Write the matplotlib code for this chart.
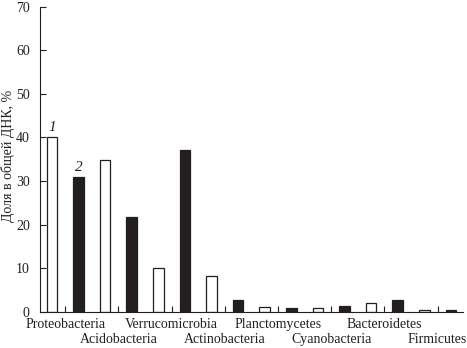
import matplotlib
matplotlib.use("Agg")
import matplotlib.pyplot as plt
import numpy as np

categories = ["Proteobacteria", "Acidobacteria", "Verrucomicrobia", "Actinobacteria",
              "Planctomycetes", "Cyanobacteria", "Bacteroidetes", "Firmicutes"]
series1 = [40.0, 34.7, 10.0, 8.3, 1.0, 0.8, 2.0, 0.5]
series2 = [30.8, 21.8, 37.2, 2.6, 0.8, 1.2, 2.6, 0.4]
yticks = [0, 10, 20, 30, 40, 50, 60, 70]
ylabel = "Доля в общей ДНК, %"

plt.rcParams["font.family"] = ["Liberation Serif", "DejaVu Serif"]
ink = "#231f20"

fig = plt.figure(figsize=(4.67, 3.48), dpi=100)
ax = fig.add_axes([0.0846, 0.1043, 0.9064, 0.8767])

x = np.arange(len(categories))
w = 0.2
off = 0.25
ax.bar(x - off, series1, width=w, color="white", edgecolor=ink, linewidth=0.9)
ax.bar(x + off, series2, width=w, color=ink, edgecolor=ink, linewidth=0.9)

ax.text(x[0] - off, series1[0] + 0.8, "1", ha="center", va="bottom",
        fontsize=11, style="italic", color=ink)
ax.text(x[0] + off, series2[0] + 0.8, "2", ha="center", va="bottom",
        fontsize=11, style="italic", color=ink)

ax.set_xlim(-0.485, 7.475)
ax.set_ylim(0, 70)
ax.set_yticks(yticks)
ax.set_yticklabels([str(t) for t in yticks], fontsize=10, color=ink)
ax.set_xticks(x)
ax.set_xticklabels([])
for i, name in enumerate(categories):
    ax.text(x[i], -1.4 if i % 2 == 0 else -4.9, name, ha="center", va="top",
            fontsize=10, color=ink)

ax.tick_params(axis="both", direction="in", length=4, width=0.8, color=ink)
ax.tick_params(axis="y", pad=7)
fig.text(8 / 467, 1 - 156 / 348, ylabel, rotation=90, ha="center", va="center",
         fontsize=10, color=ink)

for s in ["top", "right"]:
    ax.spines[s].set_visible(False)
for s in ["left", "bottom"]:
    ax.spines[s].set_color(ink)
    ax.spines[s].set_linewidth(0.8)

fig.savefig("out.png", dpi=100)
